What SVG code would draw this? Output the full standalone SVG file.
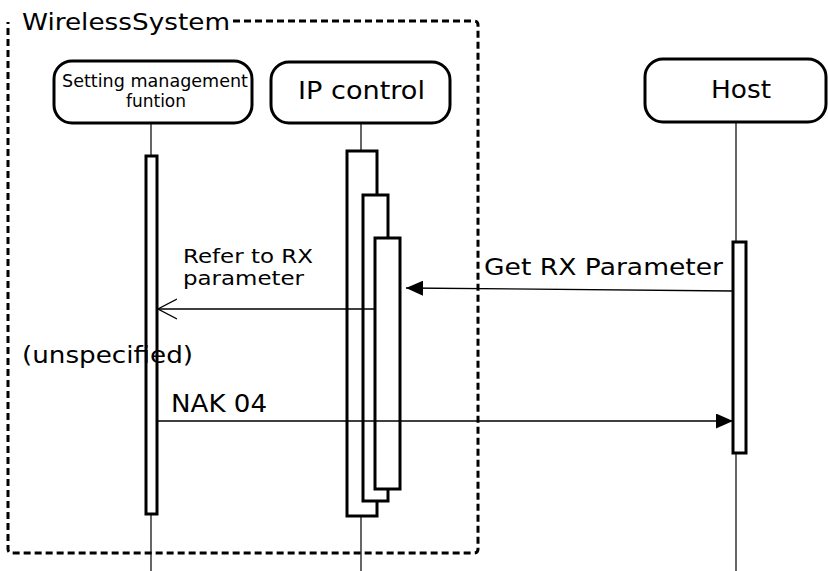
<svg xmlns="http://www.w3.org/2000/svg" width="828" height="571" viewBox="0 0 828 571">
<style>
text{font-family:"DejaVu Sans","Verdana",sans-serif;fill:#000}
.head{fill:#fff;stroke:#000;stroke-width:3}
.life{stroke:#000;stroke-width:1.2;fill:none}
.act{fill:#fff;stroke:#000;stroke-width:3}
.msg{stroke:#000;stroke-width:1.3;fill:none}
.frame{fill:none;stroke:#000;stroke-width:3;stroke-dasharray:7 4}
</style>
<defs>
<marker id="filled" markerWidth="17" markerHeight="15" refX="17" refY="7.5" orient="auto" markerUnits="userSpaceOnUse">
<path d="M0,0 L17,7.5 L0,15 Z" fill="#000"/>
</marker>
<marker id="open" markerWidth="20" markerHeight="22" refX="19" refY="11" orient="auto" markerUnits="userSpaceOnUse">
<path d="M0,1 L19,11 L0,21" fill="none" stroke="#000" stroke-width="1.3"/>
</marker>
</defs>
<rect width="828" height="571" fill="#fff"/>
<g id="lifelines">
<line class="life" x1="151" y1="123" x2="151" y2="571"/>
<line class="life" x1="361" y1="123" x2="361" y2="571"/>
<line class="life" x1="736" y1="123" x2="736" y2="571"/>
</g>
<g id="setting">
<rect class="head" x="54" y="61" width="198" height="62" rx="18"/>
<text x="62" y="87" font-size="17" textLength="186" lengthAdjust="spacingAndGlyphs">Setting management</text>
<text x="156" y="107" font-size="17" text-anchor="middle">funtion</text>
<rect class="act" x="146" y="156" width="11" height="358"/>
</g>
<g id="ipcontrol">
<rect class="head" x="271" y="62" width="179" height="61" rx="18"/>
<text x="298" y="99" font-size="25" textLength="127" lengthAdjust="spacingAndGlyphs">IP control</text>
<rect class="act" x="347" y="151" width="30" height="365"/>
<rect class="act" x="363" y="195" width="25" height="306"/>
<rect class="act" x="375" y="238" width="25" height="251"/>
</g>
<g id="host">
<rect class="head" x="645" y="59" width="181" height="63" rx="18"/>
<text x="711" y="98" font-size="24" textLength="60" lengthAdjust="spacingAndGlyphs">Host</text>
<rect class="act" x="733" y="242" width="13" height="211"/>
</g>
<g id="connectors">
<line class="msg" x1="733" y1="291" x2="406" y2="288" marker-end="url(#filled)"/>
<line class="msg" x1="375" y1="309" x2="158" y2="309" marker-end="url(#open)"/>
<line class="msg" x1="157" y1="421" x2="733" y2="421" marker-end="url(#filled)"/>
</g>
<g id="labels">
<text x="484" y="275" font-size="23" textLength="239" lengthAdjust="spacingAndGlyphs">Get RX Parameter</text>
<text x="183" y="263" font-size="20" textLength="130" lengthAdjust="spacingAndGlyphs">Refer to RX</text>
<text x="183" y="285" font-size="20" textLength="121" lengthAdjust="spacingAndGlyphs">parameter</text>
<text x="22" y="363" font-size="23" textLength="171" lengthAdjust="spacingAndGlyphs">(unspecified)</text>
<text x="171" y="412" font-size="24" textLength="96" lengthAdjust="spacingAndGlyphs">NAK 04</text>
</g>
<g id="wirelesssystem">
<path class="frame" d="M233,21 L474,21 Q478,21 478,25 L478,549 Q478,553 474,553 L12,553 Q8,553 8,549 L8,22"/>
<text x="22" y="30" font-size="22.5" textLength="208" lengthAdjust="spacingAndGlyphs">WirelessSystem</text>
</g>
</svg>
